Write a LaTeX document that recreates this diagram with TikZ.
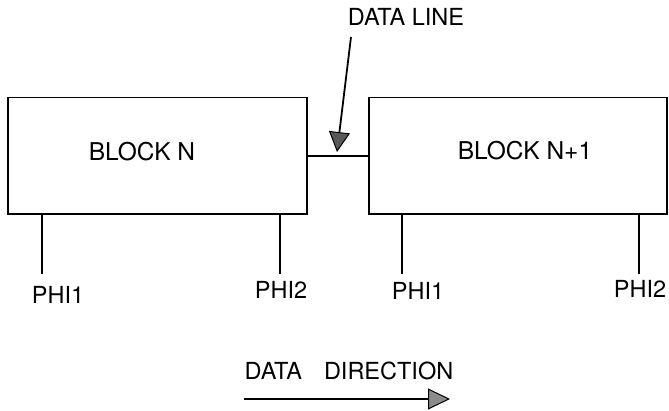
\documentclass[tikz,border=0pt]{standalone}
\usepackage{fontspec}
\setmainfont{TeX Gyre Heros}
\usetikzlibrary{arrows.meta}
\tikzset{
  blockbox/.style={draw=black, line width=1.8pt, inner sep=0pt},
  lbl/.style={inner sep=0pt, font=\fontsize{23.5}{28}\selectfont},
  blbl/.style={inner sep=0pt, font=\fontsize{24.5}{29}\selectfont},
  wire/.style={draw=black, line width=1.8pt},
  darrow/.style={line width=1.8pt, -{Triangle[length=20pt,width=21pt,fill=black!65,line width=1pt]}},
  dirarrow/.style={line width=1.8pt, -{Triangle[length=22pt,width=21pt,fill=black!45,line width=1pt]}}
}
\begin{document}
\begin{tikzpicture}[x=1pt,y=-1pt]
\useasboundingbox (0,0) rectangle (669,411);
% blocks
\node[blockbox, minimum width=299pt, minimum height=116.5pt] (bn) at (157.5,155.75) {};
\node[blockbox, minimum width=298pt, minimum height=116.5pt] (bn1) at (518,155.75) {};
\node[blbl] (tbn) at (142,152) {BLOCK N};
\node[blbl] (tbn1) at (525,150.5) {BLOCK N+1};
% data line
\draw[wire] (bn.east) -- (bn1.west);
% clock stubs
\coordinate (s1) at (42,274);
\coordinate (s2) at (280,274);
\coordinate (s3) at (402,274);
\coordinate (s4) at (639,274);
\draw[wire] (bn.south -| s1) -- (s1);
\draw[wire] (bn.south -| s2) -- (s2);
\draw[wire] (bn1.south -| s3) -- (s3);
\draw[wire] (bn1.south -| s4) -- (s4);
\node[lbl] (p1) at (58,294.5) {PHI1};
\node[lbl] (p2) at (281,290) {PHI2};
\node[lbl] (p3) at (418,291) {PHI1};
\node[lbl] (p4) at (640,289) {PHI2};
% data line label and arrow
\node[lbl] (dl) at (406,17) {DATA LINE};
\coordinate (dls) at (351,37);
\coordinate (dlt) at (337,152);
\draw[darrow] (dls) -- (dlt);
% data direction
\node[lbl] (dd) at (349,371) {DATA\hspace{22pt}DIRECTION};
\coordinate (dda) at (244,399);
\coordinate (ddb) at (450,399);
\draw[dirarrow] (dda) -- (ddb);
\end{tikzpicture}
\end{document}
